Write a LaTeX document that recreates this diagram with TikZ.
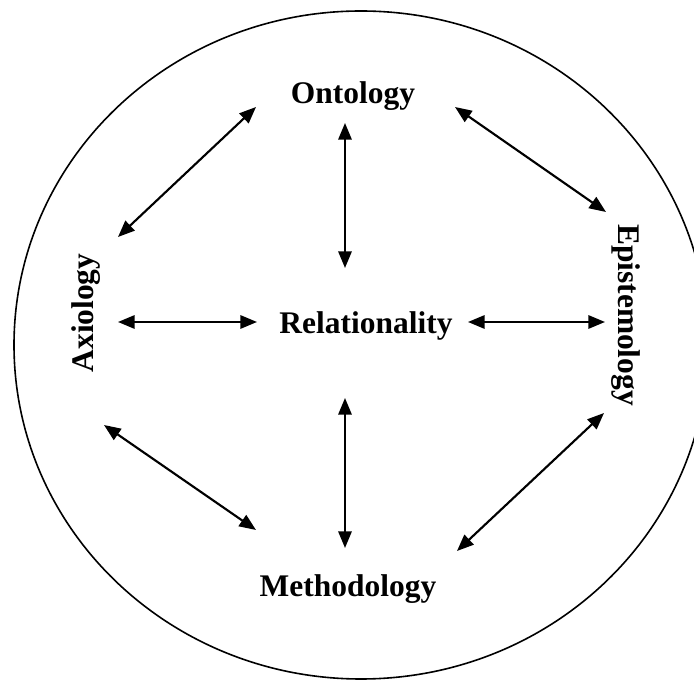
\documentclass[tikz,border=0pt]{standalone}
\usepackage{fontspec}
\setmainfont{Liberation Serif}
\usepackage{tikz}
\usetikzlibrary{arrows.meta,positioning}

\begin{document}
\begin{tikzpicture}[x=0.75pt,y=-0.75pt,
    term/.style={inner sep=0pt, font=\fontsize{23.6}{28}\selectfont\bfseries},
    link/.style={{Triangle[length=12.5pt,width=10pt]}-{Triangle[length=12.5pt,width=10pt]}, line width=1.6pt}]
    \useasboundingbox (0,0) rectangle (694,680);
    \draw[line width=1.2pt] (361,345) ellipse [x radius=347, y radius=334];
    \node[term] (onto) at (353,96) {Ontology};
    \node[term] (rel) at (366,326) {Relationality};
    \node[term] (meth) at (348,589) {Methodology};
    \node[term, rotate=90] (axio) at (86,313) {Axiology};
    \node[term, rotate=-90] (epis) at (626,315) {Epistemology};
    % outer ring of links
    \draw[link] ([shift={(-97,11)}]onto.center) -- ([shift={(32,-76)}]axio.center);
    \draw[link] ([shift={(102,11)}]onto.center) -- ([shift={(-20,-103)}]epis.center);
    \draw[link] ([shift={(18,112)}]axio.center) -- ([shift={(-92,-59)}]meth.center);
    \draw[link] ([shift={(-22,98)}]epis.center) -- ([shift={(109,-38)}]meth.center);
    % links to the centre
    \draw[link] ([shift={(-8,27)}]onto.center) -- ([shift={(-21,-58)}]rel.center);
    \draw[link] ([shift={(32,9)}]axio.center) -- ([shift={(-109,-4)}]rel.center);
    \draw[link] ([shift={(102,-4)}]rel.center) -- ([shift={(-21,7)}]epis.center);
    \draw[link] ([shift={(-21,72)}]rel.center) -- ([shift={(-3,-41)}]meth.center);
\end{tikzpicture}
\end{document}
